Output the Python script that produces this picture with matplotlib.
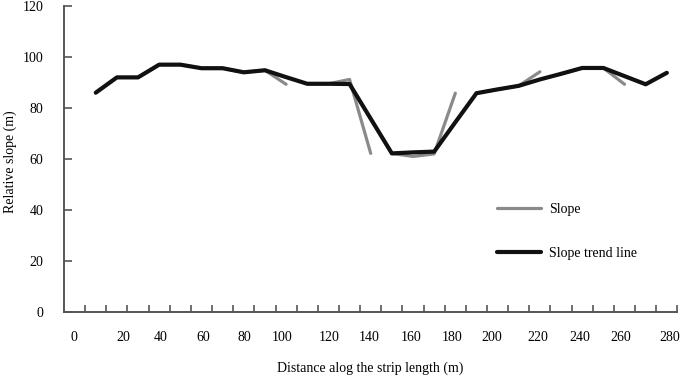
import numpy as np
import matplotlib
matplotlib.use('Agg')
from matplotlib import pyplot as plt

# distance along the strip (m)
distance = [10, 20, 30, 40, 50, 60, 70, 80, 90, 100, 110, 120, 130, 140,
            150, 160, 170, 180, 190, 200, 210, 220, 230, 240, 250, 260, 270, 280]

# trend line
trend = [86, 92, 92, 97, 97, 95.6, 95.6, 94, 94.8, 92.1, 89.5, 89.5, 89.4, 75.8,
         62.2, 62.6, 62.9, 74.4, 85.8, 87.3, 88.7, 91.2, 93.4, 95.7, 95.7, 92.5, 89.3, 93.8]

# slope, in 40 m strips (nan = break between strips)
slope = [86, 92, 92, 97, 97, 95.6, 95.6, 94, 94.8, 89.3, np.nan,
         89.5, 89.5, 91.2, 62.2, np.nan,
         62.2, 61.0, 62.0, 85.8, np.nan,
         85.8, 87.3, 88.7, 94.2, np.nan,
         93.4, 95.7, 95.7, 89.3, np.nan,
         89.3, 93.8]
slope_x = [10, 20, 30, 40, 50, 60, 70, 80, 90, 100, 105,
           110, 120, 130, 140, 145,
           150, 160, 170, 180, 185,
           190, 200, 210, 220, 225,
           230, 240, 250, 260, 265,
           270, 280]

xtick_labels = ['0', '20', '40', '60', '80', '100', '120', '140', '160',
                '180', '200', '220', '240', '260', '280']
# where the labels sit under the axis (they are not evenly spaced)
xtick_label_pos = [-0.3, 22.9, 40.7, 60.8, 80.2, 97.9, 120.3, 139.2, 158.9,
                   178.5, 197.4, 219.1, 239, 258, 281.5]
yticks = [0, 20, 40, 60, 80, 100, 120]

plt.rcParams['font.family'] = ['Liberation Serif', 'DejaVu Serif']

fig = plt.figure(figsize=(6.81, 3.77), dpi=100)
ax = fig.add_axes([64/681, 65/377, 613.4/681, 306/377])

ax.plot(slope_x, slope, color='#8a8a8a', lw=2.3, label='Slope', solid_capstyle='round')
ax.plot(distance, trend, color='#111111', lw=3.0, label='Slope trend line', solid_capstyle='round')

ax.set_xlim(-5, 285)
ax.set_ylim(0, 120)
for s in ['top', 'right']:
    ax.spines[s].set_visible(False)
for s in ['left', 'bottom']:
    ax.spines[s].set_color('#555555')
    ax.spines[s].set_linewidth(1.4)

ax.set_xticks(np.arange(5, 286, 10))
ax.set_xticklabels([])
ax.tick_params(axis='x', which='major', direction='in', length=5, width=1.2, color='#555555')
ax.set_xticks(xtick_label_pos, minor=True)
ax.set_xticklabels(xtick_labels, minor=True, fontsize=10)
ax.tick_params(axis='x', which='minor', length=0, pad=13.5)

ax.set_yticks(yticks)
ax.set_yticklabels([str(v) for v in yticks], fontsize=10)
ax.tick_params(axis='y', direction='in', length=6, width=1.2, color='#555555', pad=15)

fig.text(370/681, 1 - 368/377, 'Distance alog the strip length (m)', ha='center', va='center', fontsize=10)
fig.text(10/681, 1 - 162/377, 'Relative slope (m)', ha='center', va='center', rotation=90, fontsize=10)

ax.legend(loc='upper left', bbox_to_anchor=(497/681, 1 - 203/377), bbox_transform=fig.transFigure,
          frameon=False, fontsize=10, handlelength=3.2, handletextpad=0.55, labelspacing=2.2,
          borderpad=0, borderaxespad=0)

plt.savefig('out.png', dpi=100)
